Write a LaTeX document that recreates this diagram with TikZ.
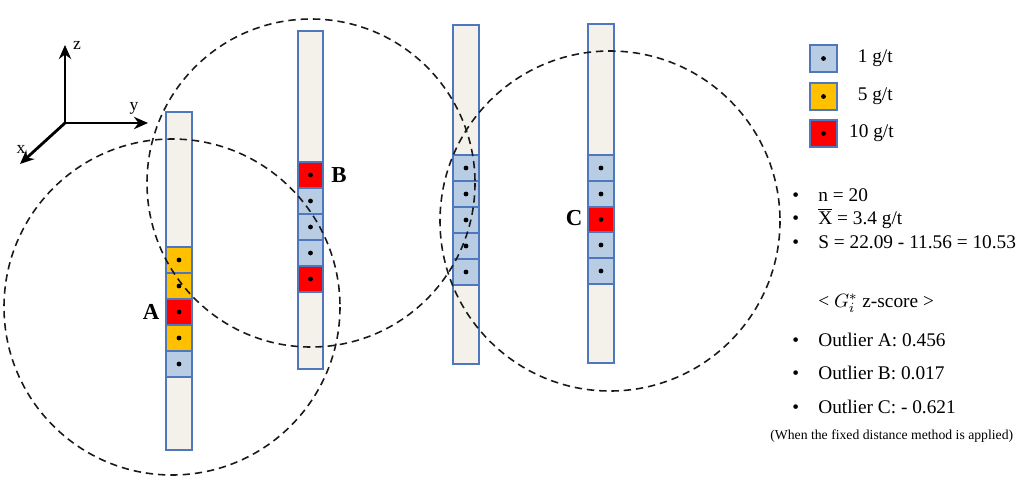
\documentclass[tikz,border=0pt]{standalone}
\usepackage{fontspec}
\setmainfont{Liberation Serif}
\usetikzlibrary{arrows.meta}

\definecolor{coreline}{RGB}{79,119,189}
\definecolor{corefill}{RGB}{244,241,235}
\definecolor{lowfill}{RGB}{184,204,228}
\definecolor{midfill}{RGB}{255,192,0}
\definecolor{highfill}{RGB}{255,0,0}

\tikzset{
  core/.style={draw=coreline, fill=corefill, line width=0.6pt},
  low/.style={draw=coreline, fill=lowfill, line width=0.6pt},
  mid/.style={draw=coreline, fill=midfill, line width=0.6pt},
  high/.style={draw=coreline, fill=highfill, line width=0.6pt},
  window/.style={dash pattern=on 4.2pt off 2.8pt, line width=0.9pt, black!90},
  axis/.style={-{Stealth[length=8pt,width=7pt]}, line width=1.6pt},
  txt/.style={font=\fontsize{11}{13}\selectfont, inner sep=0pt, anchor=west},
  tag/.style={font=\fontsize{13}{15}\selectfont\bfseries, inner sep=0pt}
}

\begin{document}
\begin{tikzpicture}[x=0.02cm, y=-0.02cm]
\useasboundingbox (0,0) rectangle (1027,477);

% axes
\coordinate (O) at (65,123);
\coordinate (Z) at (65,45);
\coordinate (Y) at (148,123);
\coordinate (X) at (20,164);
\draw[axis] (O) -- (Z);
\draw[axis] (O) -- (Y);
\draw[axis] (O) -- (X);
\node[font=\fontsize{10}{11}\selectfont, inner sep=0pt] (zlab) at (77,45) {z};
\node[font=\fontsize{10}{11}\selectfont, inner sep=0pt] (ylab) at (134,108) {y};
\node[font=\fontsize{10}{11}\selectfont, inner sep=0pt] (xlab) at (21,149) {x};

% drill hole A
\draw[core] (166,112) rectangle (192,450);
\draw[mid] (166,247) rectangle (192,273);
\fill (179,260) circle (2.4);
\draw[mid] (166,273) rectangle (192,299);
\fill (179,286) circle (2.4);
\draw[high] (166,299) rectangle (192,325);
\fill (179,312) circle (2.4);
\draw[mid] (166,325) rectangle (192,351);
\fill (179,338) circle (2.4);
\draw[low] (166,351) rectangle (192,377);
\fill (179,364) circle (2.4);

% drill hole B
\draw[core] (298,31) rectangle (323,369);
\draw[high] (298,162) rectangle (323,188);
\fill (310.5,175) circle (2.4);
\draw[low] (298,188) rectangle (323,214);
\fill (310.5,201) circle (2.4);
\draw[low] (298,214) rectangle (323,240);
\fill (310.5,227) circle (2.4);
\draw[low] (298,240) rectangle (323,266);
\fill (310.5,253) circle (2.4);
\draw[high] (298,266) rectangle (323,292);
\fill (310.5,279) circle (2.4);

% drill hole 3
\draw[core] (453,25) rectangle (479,364);
\draw[low] (453,155) rectangle (479,181);
\fill (466,168) circle (2.4);
\draw[low] (453,181) rectangle (479,207);
\fill (466,194) circle (2.4);
\draw[low] (453,207) rectangle (479,233);
\fill (466,220) circle (2.4);
\draw[low] (453,233) rectangle (479,259);
\fill (466,246) circle (2.4);
\draw[low] (453,259) rectangle (479,285);
\fill (466,272) circle (2.4);

% drill hole C
\draw[core] (588,24) rectangle (614,363);
\draw[low] (588,155) rectangle (614,181);
\fill (601,168) circle (2.4);
\draw[low] (588,181) rectangle (614,207);
\fill (601,194) circle (2.4);
\draw[high] (588,207) rectangle (614,232);
\fill (601,219.5) circle (2.4);
\draw[low] (588,232) rectangle (614,258);
\fill (601,245) circle (2.4);
\draw[low] (588,258) rectangle (614,284);
\fill (601,271) circle (2.4);

% search windows
\draw[window] (172,307) circle (168);
\draw[window] (311,183) circle (164);
\draw[window] (610,221) circle (170);

\node[tag] (A) at (151,312) {A};
\node[tag] (B) at (339,175) {B};
\node[tag] (C) at (574,218) {C};

% legend
\draw[low] (810,45) rectangle (837,72);
\fill (823.5,58.5) circle (2.4);
\draw[mid] (810,83) rectangle (837,110);
\fill (823.5,96.5) circle (2.4);
\draw[high] (810,120) rectangle (837,147);
\fill (823.5,133.5) circle (2.4);
\node[txt, anchor=east] (one) at (893,58.5) {1 g/t};
\node[txt, anchor=east] (five) at (893,96.5) {5 g/t};
\node[txt, anchor=east] (ten) at (894,133.5) {10 g/t};

% statistics
\node[txt] (b1) at (792,197) {\textbullet};
\node[txt] (n) at (818,195) {n = 20};
\node[txt] (b2) at (792,220) {\textbullet};
\node[txt] (mean) at (818,218) {$\overline{\hbox{X}}$ = 3.4 g/t};
\node[txt] (b3) at (792,244) {\textbullet};
\node[txt] (S) at (818,242) {S = 22.09 - 11.56 = 10.53};

\node[txt] (head) at (818,303) {< $G_i^*$ z-score >};
\node[txt] (b4) at (792,342) {\textbullet};
\node[txt] (oA) at (818,340) {Outlier A: 0.456};
\node[txt] (b5) at (792,375) {\textbullet};
\node[txt] (oB) at (818,373) {Outlier B: 0.017};
\node[txt] (b6) at (792,409) {\textbullet};
\node[txt] (oC) at (818,407) {Outlier C: - 0.621};
\node[txt, font=\fontsize{7.8}{9}\selectfont] (note) at (770,436) {(When the fixed distance method is applied)};

\end{tikzpicture}
\end{document}
